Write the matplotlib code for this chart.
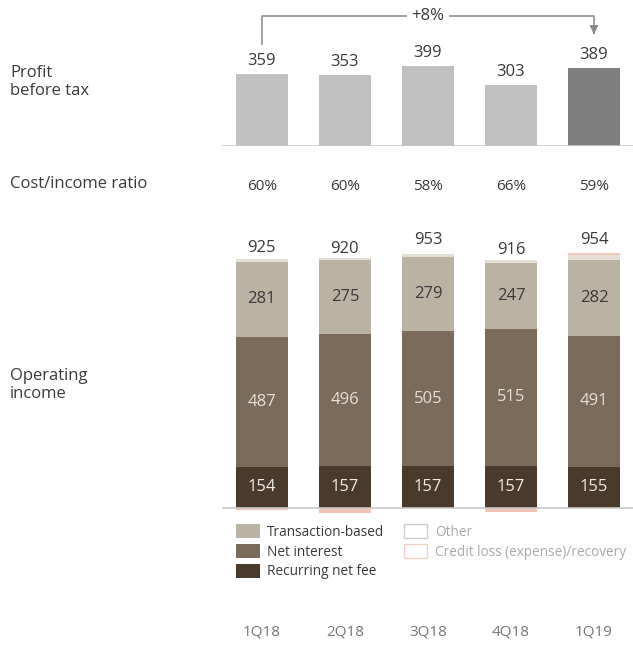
import matplotlib.pyplot as plt
from matplotlib.patches import Patch
from matplotlib.transforms import blended_transform_factory
import numpy as np

plt.rcParams['font.family'] = ['Open Sans', 'DejaVu Sans']

quarters = ['1Q18', '2Q18', '3Q18', '4Q18', '1Q19']
profit = [359, 353, 399, 303, 389]
cost_income = ['60%', '60%', '58%', '66%', '59%']
recurring = [154, 157, 157, 157, 155]
net_interest = [487, 496, 505, 515, 491]
transaction = [281, 275, 279, 247, 282]
other = [10, 10, 12, 10, 20]
credit_loss = [-7, -18, 0, -13, 6]
totals = [925, 920, 953, 916, 954]

c_trans = '#bab2a2'
c_ni = '#7b6b5a'
c_rec = '#4a3a2c'
c_other = '#e4e0d8'
c_credit = '#f0c4b4'

W, H = 633, 645
fig = plt.figure(figsize=(W / 100, H / 100), dpi=100)

x = np.arange(len(quarters))
bw = 0.63
left = 222 / W
width = 411 / W
xlim = (-0.48, 4.47)
txt = '#3a3a3a'

# profit before tax ----------------------------
ax1 = fig.add_axes([left, 1 - 146 / H, width, 140 / H])
cols = ['#c0c0c0'] * 4 + ['#7f7f7f']
ax1.bar(x, profit, width=bw, color=cols)
for i, v in enumerate(profit):
    ax1.text(x[i], v + 25, str(v), ha='center', va='bottom', fontsize=12, color=txt)
ax1.axhline(0, color='#c8c8c8', lw=1.2)
ax1.set_xlim(*xlim)
ax1.set_ylim(0, 700)
ax1.axis('off')

# +8% bracket
ax1.plot([x[0], x[0], x[4], x[4]], [510, 650, 650, 575], color='#888888', lw=1.1)
ax1.annotate('', xy=(x[4], 545), xytext=(x[4], 580),
             arrowprops=dict(arrowstyle='-|>', color='#888888', lw=1.1, mutation_scale=12))
ax1.text(x[2], 650, '+8%', ha='center', va='center', fontsize=12, color=txt,
         bbox=dict(facecolor='white', edgecolor='none', pad=3))

# operating income ----------------------------
ax2 = fig.add_axes([left, 1 - 515 / H, width, 290 / H])
b1 = np.array(recurring)
b2 = b1 + np.array(net_interest)
b3 = b2 + np.array(transaction)
ax2.bar(x, recurring, width=bw, color=c_rec)
ax2.bar(x, net_interest, bottom=b1, width=bw, color=c_ni)
ax2.bar(x, transaction, bottom=b2, width=bw, color=c_trans)
ax2.bar(x, other, bottom=b3, width=bw, color=c_other)
b4 = b3 + np.array(other)
cl = np.array(credit_loss)
ax2.bar(x, cl, bottom=np.where(cl > 0, b4, 0), width=bw, color=c_credit)
ax2.axhline(0, color='#c8c8c8', lw=1.2)

for i in range(len(quarters)):
    ax2.text(x[i], b1[i] / 2, str(recurring[i]), ha='center', va='center', fontsize=12, color='#f0ece6')
    ax2.text(x[i], b1[i] + net_interest[i] / 2, str(net_interest[i]), ha='center', va='center',
             fontsize=12, color='#e6dfd6')
    ax2.text(x[i], b2[i] + transaction[i] / 2, str(transaction[i]), ha='center', va='center',
             fontsize=12, color=txt)
    ax2.text(x[i], totals[i] + 20, str(totals[i]), ha='center', va='bottom', fontsize=12, color=txt)
ax2.set_xlim(*xlim)
ax2.set_ylim(-26, 1060)
ax2.axis('off')

# cost/income ratio and x labels
tr = blended_transform_factory(ax2.transData, fig.transFigure)
for i in range(len(quarters)):
    fig.text(x[i], 1 - 186 / H, cost_income[i], transform=tr, ha='center', va='center',
             fontsize=11, color=txt)
    fig.text(x[i], 1 - 632 / H, quarters[i], transform=tr, ha='center', va='center',
             fontsize=11, color='#777777')

# row labels
fig.text(10 / W, 1 - 82 / H, 'Profit\nbefore tax', ha='left', va='center', fontsize=12,
         color=txt, linespacing=1.15)
fig.text(10 / W, 1 - 184 / H, 'Cost/income ratio', ha='left', va='center', fontsize=12, color=txt)
fig.text(10 / W, 1 - 385 / H, 'Operating\nincome', ha='left', va='center', fontsize=12,
         color=txt, linespacing=1.15)

# legend
handles = [Patch(facecolor=c_trans), Patch(facecolor=c_ni), Patch(facecolor=c_rec),
           Patch(facecolor='white', edgecolor='#cccccc'), Patch(facecolor='white', edgecolor='#f2d2c6')]
labels = ['Transaction-based', 'Net interest', 'Recurring net fee', 'Other', 'Credit loss (expense)/recovery']
leg = fig.legend(handles, labels, ncol=2, loc='upper left', bbox_to_anchor=(236 / W, 1 - 524 / H),
                 frameon=False, fontsize=9.8, handlelength=1.75, handleheight=1.25, handletextpad=0.55,
                 columnspacing=1.4, labelspacing=0.3, borderpad=0, borderaxespad=0)
for t, c in zip(leg.get_texts(), [txt] * 3 + ['#aaaaaa'] * 2):
    t.set_color(c)

fig.savefig('out.png', dpi=100)
